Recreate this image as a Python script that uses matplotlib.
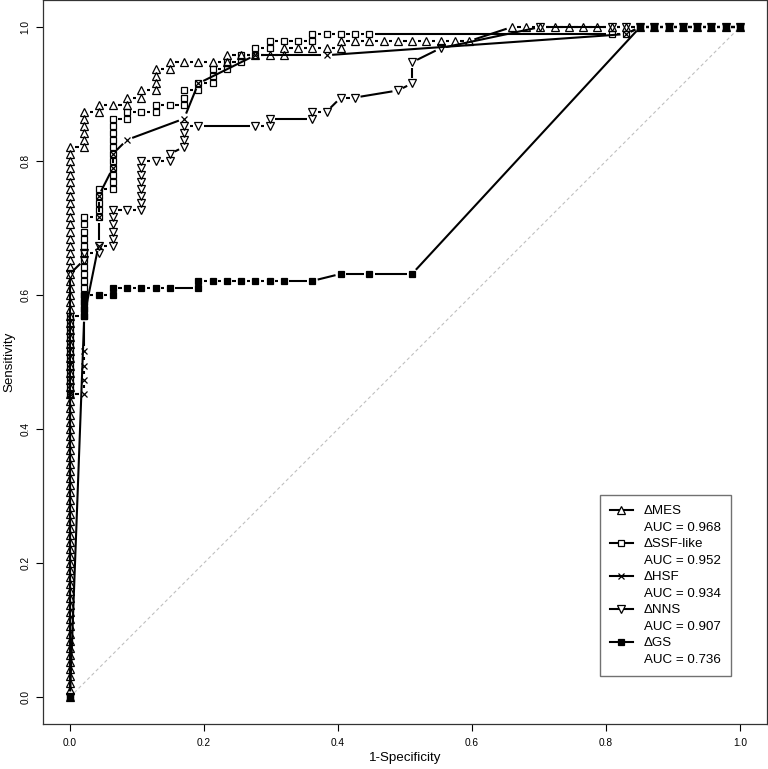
import numpy as np
import matplotlib
matplotlib.use('Agg')
import matplotlib.pyplot as plt
from matplotlib.collections import LineCollection
from matplotlib.lines import Line2D

plt.rcParams['font.family'] = ['Liberation Sans', 'DejaVu Sans']

# Casos
N_POS = 95  # positivos
N_NEG = 47  # negativos

# Curvas ROC: (falsos positivos, verdaderos positivos desde, hasta), un punto por caso
MES = [(0, 0, 78), (1, 78, 83), (2, 83, 84), (3, 84, 84), (4, 84, 85), (5, 85, 86),
       (6, 86, 89), (7, 89, 90), (8, 90, 90), (9, 90, 90), (10, 90, 90), (11, 90, 91),
       (12, 91, 91), (13, 91, 91), (14, 91, 91), (15, 91, 92), (16, 92, 92), (17, 92, 92),
       (18, 92, 92), (19, 92, 93), (20, 93, 93), (21, 93, 93), (22, 93, 93), (23, 93, 93),
       (24, 93, 93), (25, 93, 93), (26, 93, 93), (27, 93, 93), (28, 93, 93), (31, 95, 95),
       (32, 95, 95), (33, 95, 95), (34, 95, 95), (35, 95, 95), (36, 95, 95), (37, 95, 95),
       (38, 95, 95), (39, 95, 95), (40, 95, 95), (41, 95, 95), (42, 95, 95), (43, 95, 95),
       (44, 95, 95), (45, 95, 95), (46, 95, 95), (47, 95, 95)]

SSF = [(0, 0, 0), (0, 43, 54), (1, 54, 68), (2, 68, 72), (3, 72, 82), (4, 82, 83),
       (5, 83, 83), (6, 83, 84), (7, 84, 84), (8, 84, 86), (9, 86, 87), (10, 87, 89),
       (11, 89, 90), (12, 90, 91), (13, 91, 92), (14, 92, 93), (15, 93, 93), (16, 93, 93),
       (17, 93, 94), (18, 94, 94), (19, 94, 94), (20, 94, 94), (21, 94, 94), (38, 94, 94),
       (39, 94, 94), (40, 95, 95), (41, 95, 95), (42, 95, 95), (43, 95, 95), (44, 95, 95),
       (45, 95, 95), (46, 95, 95), (47, 95, 95)]

HSF = [(0, 0, 0), (0, 43, 43), (1, 43, 43), (1, 45, 45), (1, 47, 47), (1, 49, 49),
       (1, 54, 54), (2, 64, 64), (2, 68, 68), (2, 71, 71), (3, 75, 75), (3, 77, 77),
       (4, 79, 79), (8, 82, 82), (9, 87, 87), (13, 91, 91), (18, 91, 91), (39, 94, 94),
       (40, 95, 95), (41, 95, 95), (42, 95, 95), (43, 95, 95), (44, 95, 95), (45, 95, 95),
       (46, 95, 95), (47, 95, 95)]

NNS = [(0, 0, 0), (0, 60, 60), (1, 62, 63), (2, 63, 64), (3, 64, 69), (4, 69, 69),
       (5, 69, 76), (6, 76, 76), (7, 76, 77), (8, 78, 81), (9, 81, 81), (13, 81, 81),
       (14, 81, 82), (17, 82, 83), (18, 83, 83), (19, 85, 85), (20, 85, 85), (23, 86, 86),
       (24, 87, 87), (24, 90, 90), (26, 92, 92), (33, 95, 95), (38, 95, 95), (39, 95, 95),
       (40, 95, 95), (41, 95, 95), (42, 95, 95), (43, 95, 95), (44, 95, 95), (45, 95, 95),
       (46, 95, 95), (47, 95, 95)]

GS = [(0, 0, 0), (1, 54, 57), (2, 57, 57), (3, 57, 58), (4, 58, 58), (5, 58, 58),
      (6, 58, 58), (7, 58, 58), (9, 58, 59), (10, 59, 59), (11, 59, 59), (12, 59, 59),
      (13, 59, 59), (14, 59, 59), (15, 59, 59), (17, 59, 59), (19, 60, 60), (21, 60, 60),
      (24, 60, 60), (40, 95, 95), (41, 95, 95), (42, 95, 95), (43, 95, 95), (44, 95, 95),
      (45, 95, 95), (46, 95, 95), (47, 95, 95)]

NOMBRES = ['\u0394MES', '\u0394SSF-like', '\u0394HSF', '\u0394NNS', '\u0394GS']
AUC = ['0.968', '0.952', '0.934', '0.907', '0.736']


def puntos(cols):
    fp, tp = [], []
    for f, lo, hi in cols:
        for t in range(lo, hi + 1):
            fp.append(f)
            tp.append(t)
    return np.array(fp) / N_NEG, np.array(tp) / N_POS


def lineas_b(ax, x, y, gap=5.5, **kw):
    # lineas con hueco alrededor de cada punto (como type="b" de R)
    pts = ax.transData.transform(np.column_stack([x, y]))
    inv = ax.transData.inverted()
    segs = []
    for p0, p1 in zip(pts[:-1], pts[1:]):
        d = p1 - p0
        L = np.hypot(d[0], d[1])
        if L > 2 * gap:
            u = d / L
            segs.append(inv.transform(np.array([p0 + u * gap, p1 - u * gap])))
    ax.add_collection(LineCollection(segs, **kw))


fig = plt.figure(figsize=(7.68, 7.69), dpi=100)
ax = fig.add_axes([43.2 / 768, 1 - 723.8 / 769, 723.6 / 768, 723.6 / 769])
ax.set_xlim(-0.04, 1.04)
ax.set_ylim(-0.04, 1.04)

# diagonal de referencia
ax.plot([0, 1], [0, 1], color='#c0c0c0', lw=0.8, ls=(0, (3, 2.5)), zorder=1)

estilos = [
    (MES, dict(marker='^', ms=6.2, mfc='none')),
    (SSF, dict(marker='s', ms=4.8, mfc='none')),
    (HSF, dict(marker='x', ms=5.0, mfc='none')),
    (NNS, dict(marker='v', ms=6.2, mfc='none')),
    (GS, dict(marker='s', ms=4.6, mfc='black')),
]

for cols, st in estilos:
    x, y = puntos(cols)
    lineas_b(ax, x, y, colors='black', linewidths=1.5, zorder=2)
    ax.plot(x, y, ls='none', mec='black', mew=0.9, zorder=3, **st)

ax.set_xticks([0, 0.2, 0.4, 0.6, 0.8, 1.0])
ax.set_yticks([0, 0.2, 0.4, 0.6, 0.8, 1.0])
ax.set_xticklabels(['0.0', '0.2', '0.4', '0.6', '0.8', '1.0'])
ax.set_yticklabels(['0.0', '0.2', '0.4', '0.6', '0.8', '1.0'], rotation=90, va='center')
ax.tick_params(direction='out', length=5, width=0.8, labelsize=7.3, pad=5)
ax.tick_params(axis='y', pad=4)
for s in ax.spines.values():
    s.set_linewidth(0.9)
    s.set_color('#333333')

ax.set_xlabel('1-Specificity', fontsize=9.6, labelpad=3)
ax.set_ylabel('Sensitivity', fontsize=9.6, labelpad=4)

# leyenda: nombre con su simbolo y debajo el AUC
handles, labels = [], []
for (cols, st), nom, auc in zip(estilos, NOMBRES, AUC):
    fc = 'black' if st['mfc'] == 'black' else 'white'
    handles.append(Line2D([], [], color='black', lw=1.5, marker=st['marker'],
                          ms=st['ms'], mfc=fc, mec='black', mew=0.9))
    labels.append(nom)
    handles.append(Line2D([], [], color='none'))
    labels.append('AUC = ' + auc)

leg = ax.legend(handles, labels, loc='lower right', bbox_to_anchor=(0.950, 0.0665),
                borderaxespad=0, fontsize=9.6, frameon=True, fancybox=False,
                edgecolor='#4d4d4d', handlelength=1.75, handletextpad=0.8,
                labelspacing=0.31, borderpad=0.75)
leg.get_frame().set_linewidth(1.0)

fig.savefig('out.png', dpi=100)
